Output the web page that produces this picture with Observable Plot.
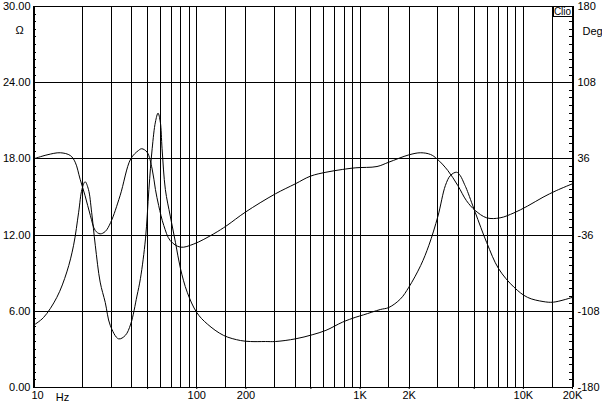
<!DOCTYPE html>
<html><head><meta charset="utf-8">
<script src="https://cdn.jsdelivr.net/npm/d3@7"></script>
<script src="https://cdn.jsdelivr.net/npm/@observablehq/plot@0.6"></script>
<style>
body{margin:0;background:#fff}
svg{display:block}
</style>
</head><body><div id="chart"></div>
<script>
// Impedance magnitude (Ω, left axis)
const impFreq = [10,11.5,13.9,16,17.6,18.9,19.8,20.7,21.7,22.7,23.9,25.6,27.5,29.5,33.2,36.5,39.4,43,45.2,48.5,50.9,53.3,55.8,57.9,59.8,61.3,64.2,68.8,74.1,79.5,87.4,100,116,146,185,213,263,303,402,509,618,779,943,1050,1330,1500,1770,1990,2350,2640,3000,3330,3580,3900,4100,4360,4500,5070,5970,7060,8760,10600,13200,15300,20000];
const impOhm = [4.9,5.5,7.1,9.1,11.2,13.8,15.6,16.2,15.6,13.8,11.2,8.3,6.7,4.9,3.83,4.1,5.0,7.2,8.6,11.7,15.6,18.8,20.9,21.6,20.9,18.8,15.6,13.5,11.4,9.35,7.5,5.9,5.0,4.1,3.7,3.62,3.62,3.62,3.83,4.15,4.5,5.14,5.54,5.72,6.14,6.3,6.98,7.9,9.6,11.2,13.5,15.9,16.7,16.95,16.7,16.0,15.6,13.8,11.4,9.35,7.9,7.1,6.77,6.72,7.1];
// Impedance phase (degrees, right axis)
const phaseFreq = [10,12.1,14.6,16.8,18,19.3,20.7,22.3,23.9,25.6,27.5,29.7,33.9,39.4,43.9,46,49.6,53.3,55.8,58.4,62.8,68.8,79.5,95.9,127,153,198,303,402,497,618,779,943,1270,1500,1990,2350,2700,2960,3440,3970,4480,5070,5970,7200,8760,10600,13200,15900,20000];
const phaseDeg = [36,39.8,41.8,39.2,32.9,16.8,1.2,-17.5,-31.7,-34.8,-32.6,-24,1.2,36,43.9,45.6,42.4,26.4,7.2,-8,-26.9,-41.2,-47.4,-44.4,-34.8,-26.9,-14.4,3,12.5,19.7,23.4,26,27.6,28.8,32.9,39.8,41.8,40.2,36,25.2,10.8,-3.4,-12.7,-19.7,-19.7,-15,-8.6,-0.2,6,12.5];

// Grid and ticks
const gridFreqs = [20,30,40,50,60,70,80,90,100,150,200,300,400,500,600,700,800,900,1000,1500,2000,3000,4000,5000,6000,7000,8000,9000,10000,15000];
const gridOhms = [6,12,18,24];
const xTickValues = [50,100,200,500,1000,2000,5000,10000,20000];
const xTickLabels = ["50","100","200","500","1K","2K","5K","10K","20K"];
const ohmTickValues = [0,6,12,18,24,30];
const ohmTickLabels = ["0.00","6.00","12.00","18.00","24.00","30.00"];
const degTickLabels = ["-180","-108","-36","36","108","180"];
const minorOhms = d3.range(0, 30.001, 0.6);

const imp = impFreq.map((f, i) => ({f, v: impOhm[i]}));
const phase = phaseFreq.map((f, i) => ({f, deg: phaseDeg[i]}));
const degToOhm = d => (d + 180) / 12;

const W = 602, H = 404, mL = 33, mR = 30, mT = 6, mB = 17;
const innerW = W - mL - mR;

const chart = Plot.plot({
  width: W, height: H,
  marginLeft: mL, marginRight: mR, marginTop: mT, marginBottom: mB,
  style: {fontFamily: "'Liberation Sans', Arial, sans-serif", fontSize: "11px", background: "#fff", color: "#000"},
  x: {type: "log", domain: [10, 20000], axis: null},
  y: {domain: [0, 30], axis: null},
  marks: [
    Plot.ruleX(gridFreqs, {x: d => d, stroke: "#000", strokeWidth: 1, shapeRendering: "crispEdges"}),
    Plot.ruleY(gridOhms, {y: d => d, stroke: "#000", strokeWidth: 1, shapeRendering: "crispEdges"}),
    Plot.ruleY([0, 30], {y: d => d, stroke: "#000", strokeWidth: 1, shapeRendering: "crispEdges"}),
    Plot.ruleX([10, 20000], {x: d => d, stroke: "#000", strokeWidth: 2, shapeRendering: "crispEdges"}),
    // minor ticks, inward, left and right
    Plot.tickY(minorOhms, {y: d => d, insetRight: innerW - 3, stroke: "#000", shapeRendering: "crispEdges"}),
    Plot.tickY(minorOhms, {y: d => d, insetLeft: innerW - 3, stroke: "#000", shapeRendering: "crispEdges"}),
    // curves
    Plot.line(imp, {x: "f", y: "v", stroke: "#000", strokeWidth: 1, curve: "catmull-rom"}),
    Plot.line(phase, {x: "f", y: d => degToOhm(d.deg), stroke: "#000", strokeWidth: 1, curve: "catmull-rom"}),
    // axes
    Plot.axisY(ohmTickValues, {anchor: "left", tickSize: 0, tickPadding: 3, label: null,
      tickFormat: d => ohmTickLabels[ohmTickValues.indexOf(d)]}),
    Plot.axisY(ohmTickValues, {anchor: "right", tickSize: 0, tickPadding: 5, label: null,
      tickFormat: d => degTickLabels[ohmTickValues.indexOf(d)]}),
    Plot.axisX(xTickValues, {anchor: "bottom", tickSize: 2, tickPadding: 2, label: null,
      tickFormat: d => xTickLabels[xTickValues.indexOf(d)]}),
    Plot.axisX([10], {anchor: "bottom", tickSize: 0, tickPadding: 4, dx: 4, label: null, tickFormat: () => "10"}),
    // unit labels
    Plot.text(["Hz"], {frameAnchor: "bottom-left", dx: 29, dy: 10, textAnchor: "middle", lineAnchor: "middle", fill: "#000"}),
    Plot.text(["Ω"], {frameAnchor: "top-left", dx: -14, dy: 24, textAnchor: "middle", lineAnchor: "middle", fill: "#000"}),
    Plot.text(["Deg"], {frameAnchor: "top-right", dx: 10, dy: 25, textAnchor: "start", lineAnchor: "middle", fill: "#000"}),
    // Clio box
    Plot.frame({insetLeft: innerW - 19, insetBottom: (H - mT - mB) - 10, stroke: "#000", fill: "#fff", shapeRendering: "crispEdges"}),
    Plot.text(["Clio"], {frameAnchor: "top-right", dx: -10, dy: 5, textAnchor: "middle", lineAnchor: "middle", fontSize: 10, fill: "#000"})
  ]
});
document.getElementById("chart").appendChild(chart);
</script>
</body></html>
